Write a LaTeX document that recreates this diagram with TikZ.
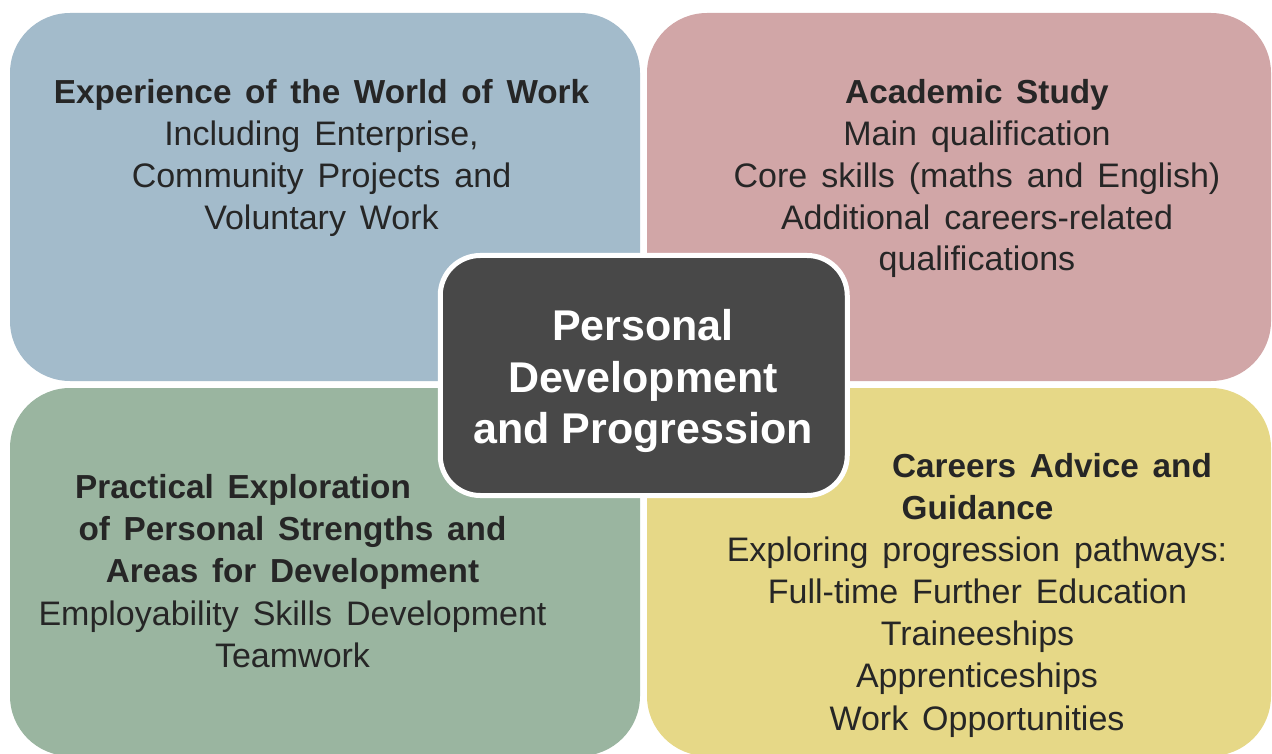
\documentclass[tikz,border=0pt]{standalone}
\usepackage{fontspec}
\setmainfont{Liberation Sans}[WordSpace=1.48]
\newfontfamily\hubfont{Liberation Sans}
\definecolor{workblue}{HTML}{A3BBCB}
\definecolor{studypink}{HTML}{D1A6A7}
\definecolor{practicalgreen}{HTML}{9AB5A0}
\definecolor{careersyellow}{HTML}{E6D887}
\definecolor{hubgrey}{HTML}{484848}
\definecolor{inkgrey}{HTML}{262626}

\begin{document}
\begin{tikzpicture}[x=1pt,y=-1pt,
	quadbox/.style={inner sep=0, rounded corners=60pt, minimum height=368pt},
	hub/.style={fill=hubgrey, draw=white, line width=5pt, rounded corners=40pt, minimum width=407pt, minimum height=240pt},
	headline/.style={anchor=base, inner sep=0, text=inkgrey, font=\fontsize{33.3}{42}\selectfont\bfseries},
	bodyline/.style={anchor=base, inner sep=0, text=inkgrey, font=\fontsize{34}{42}\selectfont},
	hubline/.style={anchor=base, inner sep=0, text=white, font=\hubfont\fontsize{43}{51}\selectfont\bfseries}]

		\useasboundingbox (0,0) rectangle (1272,754);

		% make the four quadrant boxes
		\node[quadbox, fill=workblue, minimum width=630pt] (work) at (325,197) {};
		\node[quadbox, fill=studypink, minimum width=624pt] (study) at (959,197) {};
		\node[quadbox, fill=practicalgreen, minimum width=630pt] (practical) at (325,572) {};
		\node[quadbox, fill=careersyellow, minimum width=624pt] (careers) at (959,572) {};

		% make the text of the top left box
		\node[headline] (work-head) at (321.5,104) {Experience of the World of Work};
		\node[bodyline] (work-1) at (321.5,146) {Including Enterprise,};
		\node[bodyline] (work-2) at (321.5,188) {Community Projects and};
		\node[bodyline] (work-3) at (321.5,230) {Voluntary Work};

		% make the text of the top right box
		\node[headline] (study-head) at (977,104) {Academic Study};
		\node[bodyline] (study-1) at (977,146) {Main qualification};
		\node[bodyline] (study-2) at (977,188) {Core skills (maths and English)};
		\node[bodyline] (study-3) at (977,230) {Additional careers-related};
		\node[bodyline] (study-4) at (977,271) {qualifications};

		% make the text of the bottom left box
		\node[headline] (practical-head1) at (243,498) {Practical Exploration};
		\node[headline] (practical-head2) at (292.5,540) {of Personal Strengths and};
		\node[headline] (practical-head3) at (292.5,582) {Areas for Development};
		\node[bodyline] (practical-1) at (292.5,625) {Employability Skills Development};
		\node[bodyline] (practical-2) at (292.5,667) {Teamwork};

		% make the text of the bottom right box
		\node[headline] (careers-head1) at (1052,477) {Careers Advice and};
		\node[headline] (careers-head2) at (977.5,519) {Guidance};
		\node[bodyline] (careers-1) at (977,561) {Exploring progression pathways:};
		\node[bodyline] (careers-2) at (977.5,603) {Full-time Further Education};
		\node[bodyline] (careers-3) at (977.5,645) {Traineeships};
		\node[bodyline] (careers-4) at (977,687) {Apprenticeships};
		\node[bodyline] (careers-5) at (977,730) {Work Opportunities};

		% make the centre box
		\node[hub] (hub) at (643.75,375.5) {};
		\node[hubline] (hub-1) at (643,340) {Personal};
		\node[hubline] (hub-2) at (643,392) {Development};
		\node[hubline] (hub-3) at (643,443) {and Progression};

\end{tikzpicture}
\end{document}
